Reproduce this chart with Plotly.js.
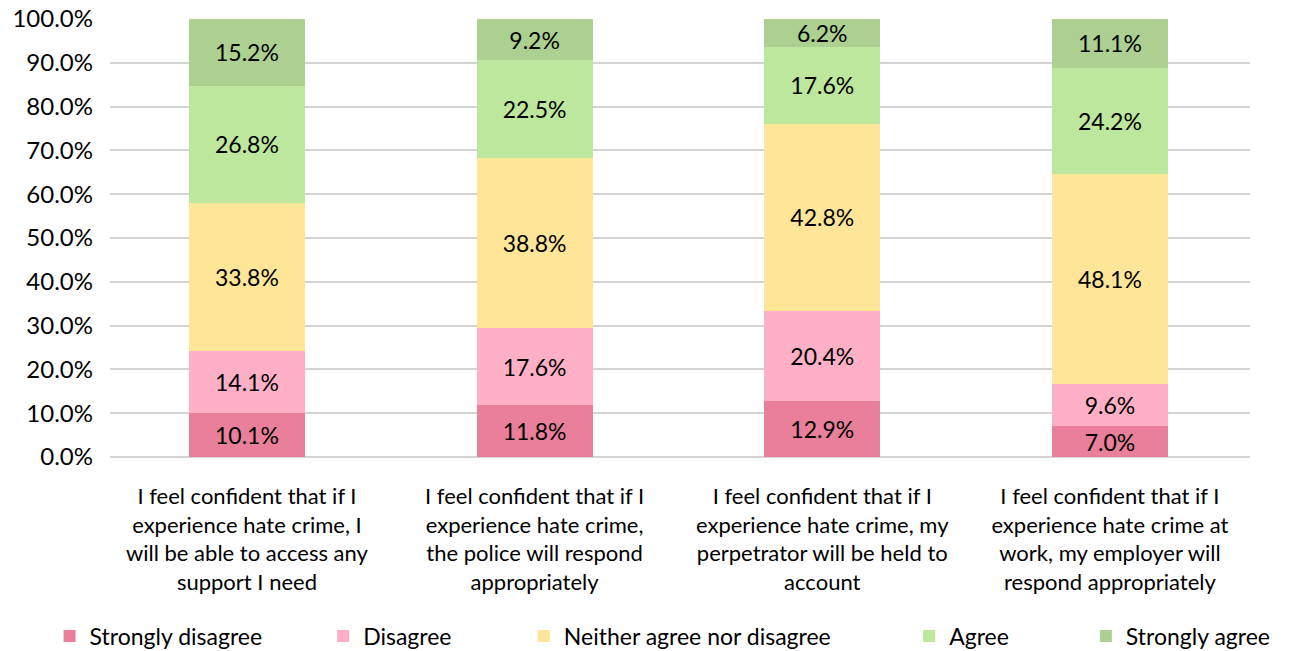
<!DOCTYPE html>
<html><head><meta charset="utf-8">
<script src="https://cdn.plot.ly/plotly-3.0.1.min.js"></script>
<style>body{margin:0;background:#fff}</style>
</head><body>
<div id="chart" style="width:1291px;height:651px"></div>
<script>
const categories = [
  "I feel confident that if I<br>experience hate crime, I<br>will be able to access any<br>support I need",
  "I feel confident that if I<br>experience hate crime,<br>the police will respond<br>appropriately",
  "I feel confident that if I<br>experience hate crime, my<br>perpetrator will be held to<br>account",
  "I feel confident that if I<br>experience hate crime at<br>work, my employer will<br>respond appropriately"
];
const seriesNames = ["Strongly disagree","Disagree","Neither agree nor disagree","Agree","Strongly agree"];
const stronglyDisagree = [10.1, 11.8, 12.9, 7.0];
const disagree = [14.1, 17.6, 20.4, 9.6];
const neither = [33.8, 38.8, 42.8, 48.1];
const agree = [26.8, 22.5, 17.6, 24.2];
const stronglyAgree = [15.2, 9.2, 6.2, 11.1];
const yTicks = [0,10,20,30,40,50,60,70,80,90,100];
const yTickLabels = yTicks.map(v => v.toFixed(1) + '%');

const colors = ["#E97F9A","#FFB0C6","#FFE597","#BDE79C","#ABD08F"];
const values = [stronglyDisagree, disagree, neither, agree, stronglyAgree];
const legendIds = ['legend','legend2','legend3','legend4','legend5'];
const legendX = [-0.053, 0.187, 0.363, 0.701, 0.856];

const traces = values.map((v,i)=>({
  type:'bar', name: seriesNames[i], x: categories, y: v,
  marker:{color: colors[i]},
  texttemplate:'%{y:.1f}%', textposition:'inside', insidetextanchor:'middle',
  constraintext:'none',
  textfont:{family:'Lato', size:23, color:'#000'},
  hoverinfo:'none', legend: legendIds[i]
}));

const layout = {
  barmode:'stack', bargap:0.597,
  width:1291, height:651,
  margin:{l:110, r:41, t:19, b:194, autoexpand:false},
  paper_bgcolor:'#fff', plot_bgcolor:'#fff',
  font:{family:'Lato', size:20, color:'#000'},
  showlegend:true,
  xaxis:{range:[-0.476, 3.487], tickfont:{family:'Lato', size:22, color:'#000'},
    showline:false, ticks:'', automargin:false, ticklabelstandoff:24},
  yaxis:{range:[0,100], tickvals:yTicks, ticktext:yTickLabels,
    gridcolor:'#d4d4d4', gridwidth:2, zeroline:true, zerolinecolor:'#d4d4d4', zerolinewidth:2,
    tickfont:{family:'Lato', size:24, color:'#000'}, ticks:'', automargin:false, ticklabelstandoff:16}
};
legendIds.forEach((id,i)=>{
  layout[id] = {orientation:'h', x: legendX[i], xanchor:'left', y:-0.409, yanchor:'middle',
    font:{family:'Lato', size:23, color:'#000'}, itemwidth:30, bgcolor:'rgba(0,0,0,0)'};
});
Plotly.newPlot('chart', traces, layout, {displayModeBar:false});
</script>
</body></html>
